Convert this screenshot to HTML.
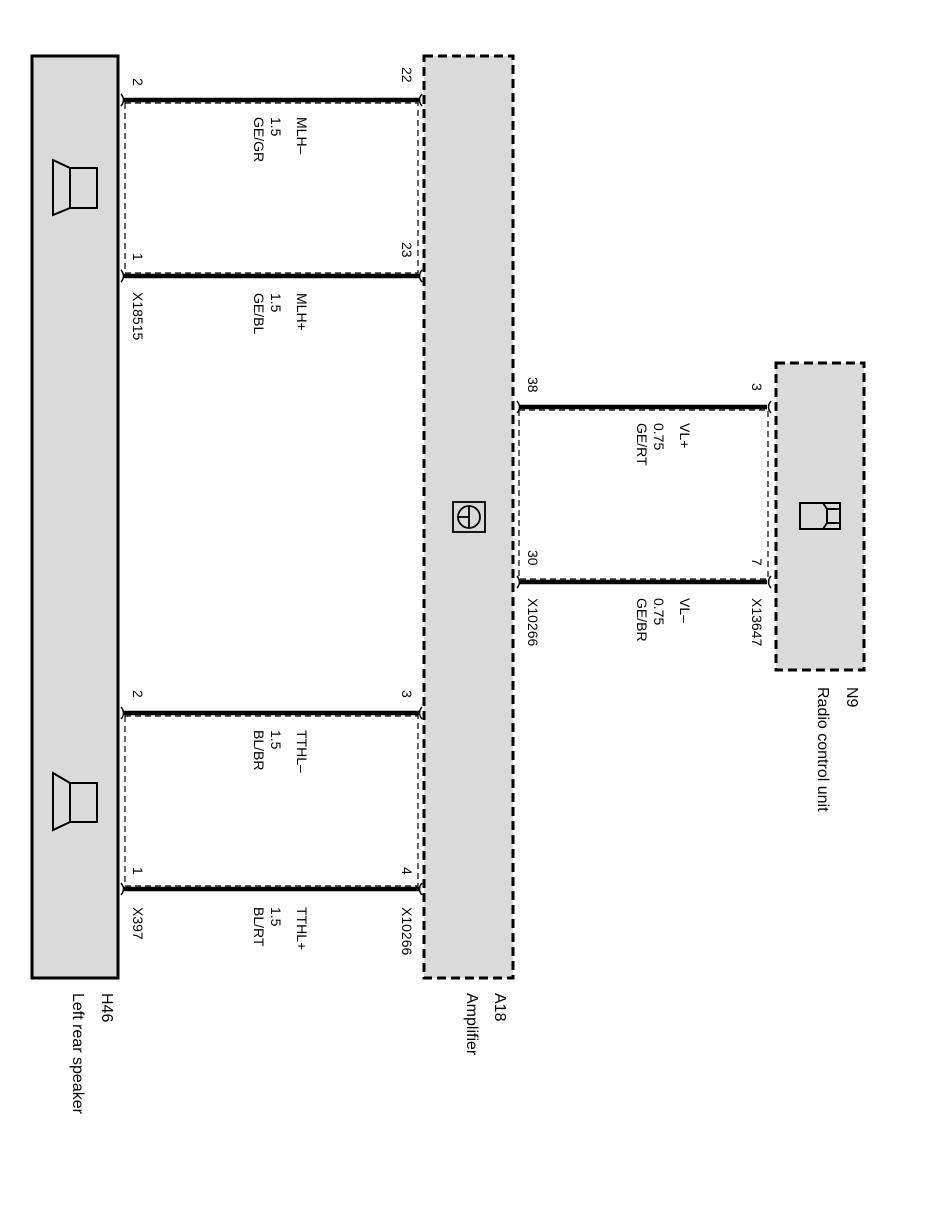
<!DOCTYPE html>
<html><head><meta charset="utf-8"><style>
html,body{margin:0;padding:0;background:#fff;}
svg{display:block;}
text{font-family:"Liberation Sans",sans-serif;font-size:14px;fill:#000;}
</style></head><body>
<svg width="941" height="1211" viewBox="0 0 941 1211" xmlns="http://www.w3.org/2000/svg">
<rect x="0" y="0" width="941" height="1211" fill="#fff"/>
<rect x="32" y="56" width="86" height="922" fill="#dadada" stroke="#000" stroke-width="3"/>
<rect x="424" y="56" width="89" height="922" fill="#dadada" stroke="#000" stroke-width="3" stroke-dasharray="9,5"/>
<rect x="776" y="363" width="88" height="307" fill="#dadada" stroke="#000" stroke-width="3" stroke-dasharray="9,5"/>

<g fill="none" stroke="#000" stroke-width="1.2" stroke-dasharray="6,4">
<rect x="125" y="103" width="293" height="170"/>
<rect x="125" y="716" width="293" height="170"/>
<rect x="519" y="410" width="249" height="169"/>
</g>

<g stroke="#000" stroke-width="4.5">
<line x1="124" y1="100" x2="419" y2="100"/>
<line x1="124" y1="276" x2="419" y2="276"/>
<line x1="124" y1="713" x2="419" y2="713"/>
<line x1="124" y1="889" x2="419" y2="889"/>
<line x1="520" y1="407" x2="767" y2="407"/>
<line x1="520" y1="582" x2="767" y2="582"/>
</g>
<g fill="none" stroke="#000" stroke-width="1.5">
<path d="M121 94 q5 6 0 12"/><path d="M121 270 q5 6 0 12"/><path d="M121 707 q5 6 0 12"/><path d="M121 883 q5 6 0 12"/>
<path d="M422 94 q-5 6 0 12"/><path d="M422 270 q-5 6 0 12"/><path d="M422 707 q-5 6 0 12"/><path d="M422 883 q-5 6 0 12"/>
<path d="M517 401 q5 6 0 12"/><path d="M517 576 q5 6 0 12"/>
<path d="M771 401 q-5 6 0 12"/><path d="M771 576 q-5 6 0 12"/>
</g>

<g fill="none" stroke="#000" stroke-width="2">
<path d="M53 160 L70 168 L70 208 L53 215 Z"/><rect x="70" y="168" width="27" height="40"/>
<path d="M53 773 L70 783 L70 822 L53 830 Z"/><rect x="70" y="783" width="27" height="39"/>
</g>
<g fill="none" stroke="#000" stroke-width="1.8">
<rect x="453" y="502" width="32" height="30"/>
<circle cx="469" cy="517" r="11"/>
<line x1="458" y1="517" x2="469" y2="517"/>
<line x1="469" y1="506" x2="469" y2="528"/>
</g>
<g fill="none" stroke="#000" stroke-width="2">
<rect x="800" y="503" width="40" height="26"/>
<path d="M823 503 L827 509 L827 523 L823 529"/>
<line x1="827" y1="509" x2="840" y2="509"/><line x1="827" y1="523" x2="840" y2="523"/>
</g>

<g>
<text transform="translate(133,78) rotate(90)">2</text>
<text transform="translate(402,67) rotate(90)">22</text>
<text transform="translate(133,253) rotate(90)">1</text>
<text transform="translate(402,242) rotate(90)">23</text>
<text transform="translate(133,292) rotate(90)">X18515</text>

<text transform="translate(297,117) rotate(90)">MLH–</text>
<text transform="translate(271,117) rotate(90)">1.5</text>
<text transform="translate(254,117) rotate(90)">GE/GR</text>
<text transform="translate(297,293) rotate(90)">MLH+</text>
<text transform="translate(271,293) rotate(90)">1.5</text>
<text transform="translate(254,293) rotate(90)">GE/BL</text>

<text transform="translate(133,690) rotate(90)">2</text>
<text transform="translate(402,690) rotate(90)">3</text>
<text transform="translate(133,867) rotate(90)">1</text>
<text transform="translate(402,867) rotate(90)">4</text>
<text transform="translate(133,907) rotate(90)">X397</text>
<text transform="translate(402,907) rotate(90)">X10266</text>

<text transform="translate(297,730) rotate(90)">TTHL–</text>
<text transform="translate(271,730) rotate(90)">1.5</text>
<text transform="translate(254,730) rotate(90)">BL/BR</text>
<text transform="translate(297,907) rotate(90)">TTHL+</text>
<text transform="translate(271,907) rotate(90)">1.5</text>
<text transform="translate(254,907) rotate(90)">BL/RT</text>

<text transform="translate(528,377) rotate(90)">38</text>
<text transform="translate(752,383) rotate(90)">3</text>
<text transform="translate(528,550) rotate(90)">30</text>
<text transform="translate(752,558) rotate(90)">7</text>
<text transform="translate(528,598) rotate(90)">X10266</text>
<text transform="translate(752,598) rotate(90)">X13647</text>

<text transform="translate(680,423) rotate(90)">VL+</text>
<text transform="translate(654,423) rotate(90)">0.75</text>
<text transform="translate(637,423) rotate(90)">GE/RT</text>
<text transform="translate(680,598) rotate(90)">VL–</text>
<text transform="translate(654,598) rotate(90)">0.75</text>
<text transform="translate(637,598) rotate(90)">GE/BR</text>

<text transform="translate(102,993) rotate(90)" style="font-size:16px">H46</text>
<text transform="translate(73,993) rotate(90)" style="font-size:16px">Left rear speaker</text>
<text transform="translate(495,993) rotate(90)" style="font-size:16px">A18</text>
<text transform="translate(467,993) rotate(90)" style="font-size:16px">Amplifier</text>
<text transform="translate(847,687) rotate(90)" style="font-size:16px">N9</text>
<text transform="translate(818,687) rotate(90)" style="font-size:16px">Radio control unit</text>
</g>
</svg>
</body></html>
